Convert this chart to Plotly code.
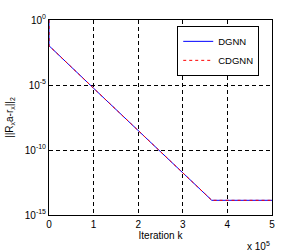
import plotly.graph_objects as go

iterations = [0, 1, 100000, 200000, 300000, 365000, 500000]
dgnn = [1.0, 1.05e-2, 5.6e-6, 3.2e-9, 1.8e-12, 1.35e-14, 1.35e-14]
cdgnn = [1.0, 1.05e-2, 5.6e-6, 3.2e-9, 1.8e-12, 1.35e-14, 1.35e-14]
x_tick_vals = [0, 100000, 200000, 300000, 400000, 500000]
x_tick_text = ["0", "1", "2", "3", "4", "5"]
y_tick_vals = [1e-15, 1e-10, 1e-5, 1]
y_tick_text = ["10<sup>-15</sup>", "10<sup>-10</sup>", "10<sup>-5</sup>", "10<sup>0</sup>"]

font = dict(family="Liberation Sans, Arial, sans-serif", size=10, color="black")

fig = go.Figure()
fig.add_trace(go.Scatter(x=iterations, y=dgnn, mode="lines", name="DGNN",
                         line=dict(color="#0000ff", width=1)))
fig.add_trace(go.Scatter(x=iterations, y=cdgnn, mode="lines", name="CDGNN",
                         line=dict(color="#ff0000", width=1, dash="3px,3px")))

fig.update_layout(
    width=301, height=251,
    margin=dict(l=49, r=29, t=20, b=36),
    paper_bgcolor="white", plot_bgcolor="white",
    font=font,
    showlegend=True,
    legend=dict(x=0.575, y=0.97, xanchor="left", yanchor="top",
                bordercolor="black", borderwidth=1, bgcolor="white",
                font=dict(size=9.5), tracegroupgap=0, itemwidth=30),
    xaxis=dict(range=[0, 500000], tickvals=x_tick_vals, ticktext=x_tick_text,
               automargin=False,
               showline=True, linecolor="black", linewidth=1, mirror=True,
               showgrid=True, gridcolor="black", griddash="4px,3px", gridwidth=1,
               zeroline=False, ticks="", title=dict(text="Iteration k", standoff=0,
               font=dict(size=10))),
    yaxis=dict(type="log", range=[-15, 0], tickvals=y_tick_vals, ticktext=y_tick_text,
               automargin=False,
               showline=True, linecolor="black", linewidth=1, mirror=True,
               showgrid=True, gridcolor="black", griddash="4px,3px", gridwidth=1,
               zeroline=False, ticks="",
               title=dict(text="||R<sub>x</sub>a-r<sub>x</sub>||<sub>2</sub>", standoff=9,
                          font=dict(size=10))),
    annotations=[dict(text="x 10<sup>5</sup>", xref="paper", yref="paper",
                      x=1.0, y=-0.12, xanchor="right", yanchor="top",
                      showarrow=False, font=dict(size=10))],
)

fig.write_html("out.html", config={"displayModeBar": False},
               post_script="document.body.style.margin='0';document.body.style.overflow='hidden';")
